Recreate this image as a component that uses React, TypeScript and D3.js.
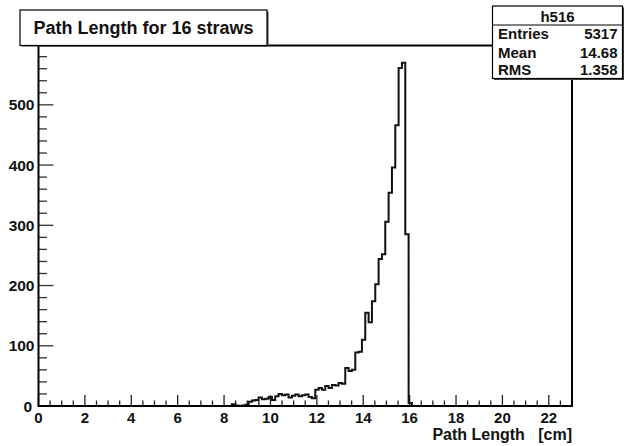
import React from 'react';
import * as d3 from 'd3';

// ---- data ----
const xMin = 0;
const xMax = 23;
const nBins = 160;
const yMax = 598.5;
const firstBin = 57;
const counts = [
  0, 3, 1, 0, 1, 2,
  7, 9, 10, 14, 11, 12, 15, 10, 16, 20,
  18, 19, 14, 17, 19, 16, 18, 19, 15, 13,
  27, 30, 27, 33, 30, 35, 34, 38, 37,
  63, 58, 60, 89, 90, 110, 155, 139, 174, 202,
  244, 252, 306, 354, 396, 466, 561, 570, 285, 5,
];
const xTickLabels = [0, 2, 4, 6, 8, 10, 12, 14, 16, 18, 20, 22];
const yTickLabels = [0, 100, 200, 300, 400, 500];
const title = 'Path Length for 16 straws';
const xTitle = 'Path Length   [cm]';
const statsName = 'h516';
const statsLabels = ['Entries', 'Mean', 'RMS'];
const statsValues = ['5317', '14.68', '1.358'];

const W = 625;
const H = 446;
const F = 'Liberation Sans, Arial, Helvetica, sans-serif';

export default function App() {
  const L = 38.5, R = 572, T = 45.5, B = 406;
  const x = d3.scaleLinear().domain([xMin, xMax]).range([L, R]);
  const y = d3.scaleLinear().domain([0, yMax]).range([B, T]);

  const full: number[] = new Array(nBins).fill(0);
  counts.forEach((c, i) => { full[firstBin + i] = c; });
  const bw = (xMax - xMin) / nBins;

  let path = `M${x(xMin)},${y(full[0])}`;
  for (let i = 0; i < nBins; i++) {
    path += `H${x(xMin + (i + 1) * bw)}`;
    if (i < nBins - 1) path += `V${y(full[i + 1])}`;
  }

  const xMinor = d3.range(0, xMax + 0.001, 0.5);
  const yMinor = d3.range(0, yMax, 20);

  const sL = 492.5, sR = 622.5, sT = 6, sB = 78.5, sSep = 25;
  const rowBase = [39.3, 57.5, 75];

  return (
    <svg width={W} height={H} style={{ position: 'absolute', left: 0, top: 0, background: '#fff' }}
      fontFamily={F} fontWeight="bold">
      <rect x={0} y={0} width={W} height={H} fill="#fff" />
      {/* x ticks */}
      {xMinor.map((v, i) => {
        const major = Math.abs(v / 2 - Math.round(v / 2)) < 1e-6;
        return <line key={'xm' + i} x1={x(v)} x2={x(v)} y1={B} y2={B - (major ? 11 : 5.5)}
          stroke="#222" strokeWidth={1.3} />;
      })}
      {/* y ticks */}
      {yMinor.map((v, i) => {
        const major = v % 100 === 0;
        return <line key={'ym' + i} x1={L} x2={L + (major ? 15 : 8.5)} y1={y(v)} y2={y(v)}
          stroke="#333" strokeWidth={1.3} />;
      })}
      {/* histogram */}
      <path d={path} fill="none" stroke="#111" strokeWidth={2} />
      {/* frame */}
      <rect x={L} y={T} width={R - L} height={B - T} fill="none" stroke="#000" strokeWidth={2} />
      {/* tick labels */}
      {xTickLabels.map((v) => (
        <text key={'xl' + v} x={x(v)} y={423} textAnchor="middle" fontSize={15} fill="#111">{v}</text>
      ))}
      {yTickLabels.map((v) => (
        <text key={'yl' + v} x={v === 0 ? 32 : 34.5} y={y(v) + 5.5} textAnchor="end" fontSize={15.5} fill="#111">{v}</text>
      ))}
      {/* axis title */}
      <text x={572} y={440} textAnchor="end" fontSize={16} fill="#111" style={{ whiteSpace: 'pre' }}>{xTitle}</text>
      {/* title box with shadow */}
      <rect x={21.5} y={11.5} width={247} height={35} fill="#444" />
      <rect x={20} y={10} width={247} height={35.5} fill="#fff" stroke="#000" strokeWidth={1.2} />
      <text x={143.5} y={34} textAnchor="middle" fontSize={18} fill="#111">{title}</text>
      {/* stats box with shadow */}
      <rect x={sL + 1.5} y={sT + 1.5} width={sR - sL} height={sB - sT} fill="#444" />
      <rect x={sL} y={sT} width={sR - sL} height={sB - sT} fill="#fff" stroke="#000" strokeWidth={1.2} />
      <line x1={sL} x2={sR} y1={sSep} y2={sSep} stroke="#000" strokeWidth={1.2} />
      <text x={(sL + sR) / 2} y={21.5} textAnchor="middle" fontSize={15} fill="#111">{statsName}</text>
      {statsLabels.map((lab, i) => (
        <g key={lab}>
          <text x={sL + 5.5} y={rowBase[i]} fontSize={15} fill="#111">{lab}</text>
          <text x={sR - 5} y={rowBase[i]} textAnchor="end" fontSize={15} fill="#111">{statsValues[i]}</text>
        </g>
      ))}
    </svg>
  );
}
